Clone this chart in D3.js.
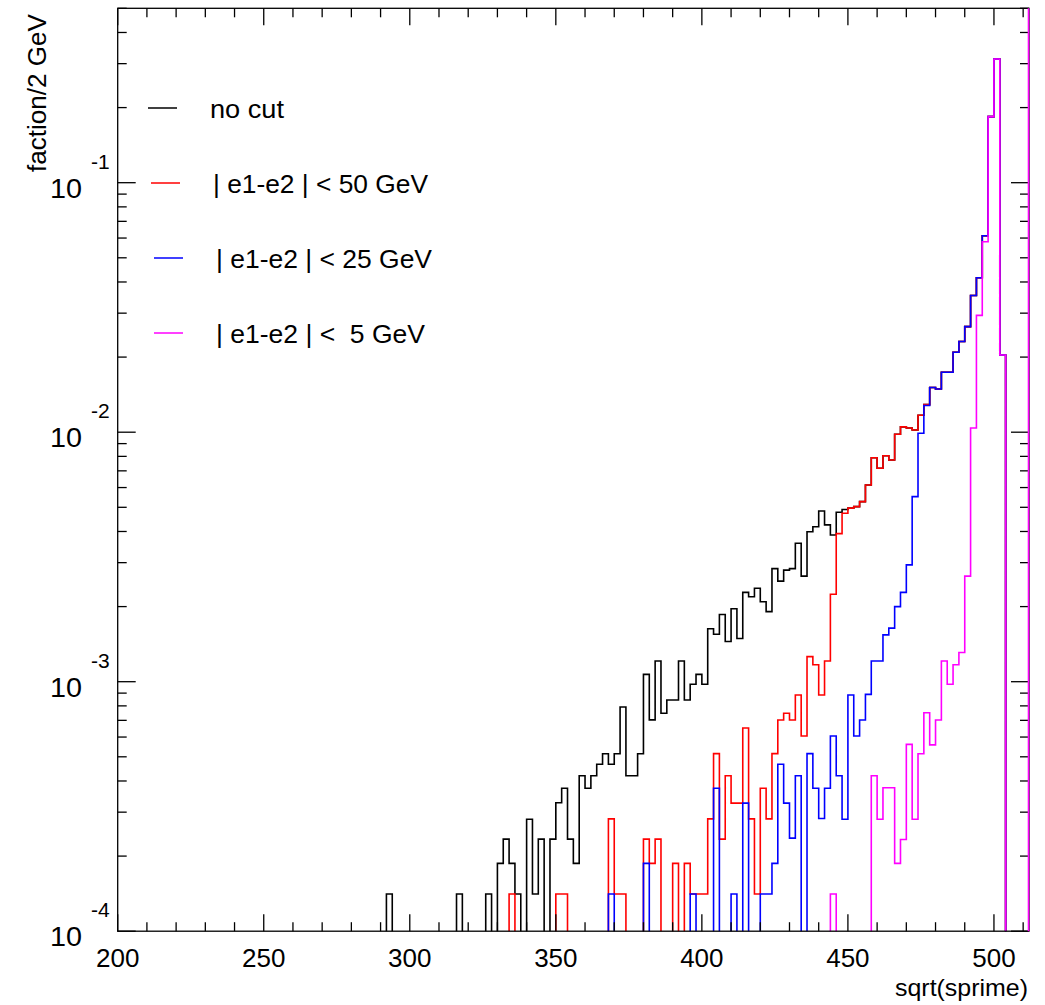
<!DOCTYPE html>
<html><head><meta charset="utf-8">
<script src="https://cdn.jsdelivr.net/npm/d3@7"></script>
<style>body{margin:0;background:#fff}svg{display:block;font-family:"Liberation Sans",Arial,Helvetica,sans-serif}</style>
</head><body><svg id="c" width="1045" height="1005"></svg>
<script>
// ---- data ----
const xTicks = [200, 250, 300, 350, 400, 450, 500];
const yDecades = [-4, -3, -2, -1];
const seriesNames = ["no cut", "| e1-e2 | < 50 GeV", "| e1-e2 | < 25 GeV", "| e1-e2 | <  5 GeV"];
const seriesColors = ["#000000", "#ff0000", "#0000ff", "#ff00ff"];
// [bin low edge (GeV), fraction per 2 GeV bin]
const noCut = [[292,1.41e-4],[316,1.41e-4],[326,1.41e-4],[330,1.87e-4],[332,2.34e-4],[334,1.87e-4],[336,1.41e-4],[340,2.81e-4],[342,1.41e-4],[344,2.34e-4],[348,2.34e-4],[350,3.27e-4],[352,3.74e-4],[354,2.34e-4],[356,1.87e-4],[358,4.20e-4],[360,3.74e-4],[362,4.20e-4],[364,4.67e-4],[366,5.14e-4],[368,4.67e-4],[370,5.14e-4],[372,7.92e-4],[374,4.20e-4],[376,4.20e-4],[378,5.14e-4],[380,1.07e-3],[382,7.03e-4],[384,1.21e-3],[386,7.47e-4],[388,8.45e-4],[390,8.45e-4],[392,1.21e-3],[394,8.45e-4],[396,9.77e-4],[398,1.07e-3],[400,9.77e-4],[402,1.63e-3],[404,1.55e-3],[406,1.86e-3],[408,1.45e-3],[410,1.96e-3],[412,1.49e-3],[414,2.28e-3],[416,2.19e-3],[418,2.37e-3],[420,2.09e-3],[422,1.91e-3],[424,2.84e-3],[426,2.53e-3],[428,2.80e-3],[430,2.84e-3],[432,3.59e-3],[434,2.65e-3],[436,3.99e-3],[438,4.18e-3],[440,4.83e-3],[442,4.25e-3],[444,3.87e-3],[446,4.78e-3],[448,4.90e-3],[450,4.96e-3],[452,5.03e-3],[454,5.27e-3],[456,6.14e-3],[458,7.90e-3],[460,7.17e-3],[462,8.05e-3],[464,7.74e-3],[466,9.81e-3],[468,1.05e-2],[470,1.04e-2],[472,1.02e-2],[474,1.17e-2],[476,1.29e-2],[478,1.51e-2],[480,1.49e-2],[482,1.74e-2],[484,1.74e-2],[486,2.09e-2],[488,2.31e-2],[490,2.65e-2],[492,3.53e-2],[494,4.16e-2],[496,6.13e-2],[498,0.184],[500,0.313],[502,0.0204]];
const cut50 = [[334,1.41e-4],[350,1.41e-4],[352,1.41e-4],[368,2.82e-4],[370,1.41e-4],[372,1.41e-4],[380,2.34e-4],[382,1.87e-4],[384,2.34e-4],[390,1.87e-4],[394,1.87e-4],[396,1.41e-4],[398,1.41e-4],[400,1.41e-4],[402,2.82e-4],[404,5.15e-4],[406,2.34e-4],[408,4.20e-4],[410,3.26e-4],[412,3.26e-4],[414,6.52e-4],[416,2.82e-4],[418,1.41e-4],[420,3.74e-4],[422,2.82e-4],[424,5.15e-4],[426,7.02e-4],[428,7.47e-4],[430,7.02e-4],[432,8.85e-4],[434,6.06e-4],[436,1.26e-3],[438,1.17e-3],[440,8.85e-4],[442,1.21e-3],[444,2.24e-3],[446,3.92e-3],[448,4.73e-3],[450,4.96e-3],[452,5.03e-3],[454,5.27e-3],[456,6.14e-3],[458,7.90e-3],[460,7.17e-3],[462,8.05e-3],[464,7.74e-3],[466,9.81e-3],[468,1.05e-2],[470,1.04e-2],[472,1.02e-2],[474,1.17e-2],[476,1.29e-2],[478,1.51e-2],[480,1.49e-2],[482,1.74e-2],[484,1.74e-2],[486,2.09e-2],[488,2.31e-2],[490,2.65e-2],[492,3.53e-2],[494,4.16e-2],[496,6.13e-2],[498,0.184],[500,0.313],[502,0.0204]];
const cut25 = [[368,1.41e-4],[380,1.87e-4],[396,1.41e-4],[404,3.74e-4],[410,1.41e-4],[414,3.26e-4],[420,1.41e-4],[422,1.41e-4],[424,1.87e-4],[426,4.67e-4],[428,3.26e-4],[430,2.36e-4],[432,4.20e-4],[436,5.15e-4],[438,3.74e-4],[440,2.83e-4],[442,3.74e-4],[444,6.06e-4],[446,4.20e-4],[448,2.81e-4],[450,8.85e-4],[452,6.06e-4],[454,7.02e-4],[456,8.90e-4],[458,1.21e-3],[460,1.21e-3],[462,1.54e-3],[464,1.64e-3],[466,2.00e-3],[468,2.28e-3],[470,2.94e-3],[472,5.52e-3],[474,9.90e-3],[476,1.28e-2],[478,1.51e-2],[480,1.49e-2],[482,1.74e-2],[484,1.74e-2],[486,2.09e-2],[488,2.31e-2],[490,2.65e-2],[492,3.53e-2],[494,4.16e-2],[496,6.13e-2],[498,0.184],[500,0.313],[502,0.0204]];
const cut5 = [[444,1.41e-4],[458,4.20e-4],[460,2.81e-4],[462,3.76e-4],[464,3.76e-4],[466,1.87e-4],[468,2.33e-4],[470,5.61e-4],[472,2.81e-4],[474,5.14e-4],[476,7.51e-4],[478,5.58e-4],[480,7.02e-4],[482,1.21e-3],[484,9.77e-4],[486,1.17e-3],[488,1.31e-3],[490,2.65e-3],[492,1.04e-2],[494,2.94e-2],[496,5.80e-2],[498,0.184],[500,0.313],[502,0.0204]];
const seriesData = [noCut, cut50, cut25, cut5];
const xMin = 200, xMax = 512, binWidth = 2;
const yMin = 1e-4, yMax = 0.5;

// ---- layout ----
const L = 117.7, R = 1029, T = 8.3, B = 931.2;
const svg = d3.select("#c");
const x = d3.scaleLinear().domain([xMin, xMax]).range([L, R]);
const y = d3.scaleLog().domain([yMin, yMax]).range([B, T]);

svg.append("defs").append("clipPath").attr("id", "clip")
  .append("rect").attr("x", L).attr("y", T).attr("width", R - L).attr("height", B - T);

const gData = svg.append("g").attr("clip-path", "url(#clip)");
const nb = (xMax - xMin) / binWidth;
seriesData.forEach((arr, i) => {
  const m = new Map(arr.map(d => [d[0], d[1]]));
  const pts = [[x(xMin), B]];
  for (let k = 0; k < nb; k++) {
    const lo = xMin + k * binWidth, hi = lo + binWidth;
    const v = m.get(lo) || 0;
    const py = v > 0 ? Math.max(T - 5, y(v)) : B + 2;
    pts.push([x(lo), py], [x(hi), py]);
  }
  pts.push([x(xMax), B + 2]);
  gData.append("path").attr("d", d3.line()(pts))
    .attr("fill", "none").attr("stroke", seriesColors[i]).attr("stroke-width", 1.6);
});

// frame + ticks
const gA = svg.append("g").attr("stroke", "#000").attr("stroke-width", 1.3);
gA.append("rect").attr("x", L).attr("y", T).attr("width", R - L).attr("height", B - T).attr("fill", "none");
const xMinor = d3.range(xMin, xMax + 0.001, 10);
xMinor.forEach(v => {
  const len = (v % 50 === 0) ? 17 : 9;
  gA.append("line").attr("x1", x(v)).attr("x2", x(v)).attr("y1", B).attr("y2", B - len);
  gA.append("line").attr("x1", x(v)).attr("x2", x(v)).attr("y1", T).attr("y2", T + len);
});
const yTickVals = [];
for (let e = -4; e <= 0; e++) for (let m = 1; m <= 9; m++) {
  const v = m * Math.pow(10, e);
  if (v >= yMin * 0.999 && v <= yMax * 1.001) yTickVals.push([v, m === 1]);
}
yTickVals.forEach(([v, major]) => {
  const len = major ? 18 : 9, py = y(v);
  gA.append("line").attr("x1", L).attr("x2", L + len).attr("y1", py).attr("y2", py);
  gA.append("line").attr("x1", R).attr("x2", R - len).attr("y1", py).attr("y2", py);
});

// right edge magenta line
svg.append("line").attr("x1", x(xMax) - 0.5).attr("x2", x(xMax) - 0.5).attr("y1", T).attr("y2", B)
  .attr("stroke", seriesColors[3]).attr("stroke-width", 1.6);

// tick labels
const gT = svg.append("g").attr("fill", "#000");
xTicks.forEach(v => {
  gT.append("text").attr("x", x(v)).attr("y", 967).attr("text-anchor", "middle")
    .attr("font-size", 26).text(v);
});
yDecades.forEach(e => {
  const py = y(Math.pow(10, e));
  gT.append("text").attr("x", 50).attr("y", py + 15)
    .attr("font-size", 27).attr("textLength", 32).attr("lengthAdjust", "spacingAndGlyphs").text("10");
  gT.append("text").attr("x", 91).attr("y", py - 14).attr("text-anchor", "start")
    .attr("font-size", 21).text(String(e));
});
// axis titles
gT.append("text").attr("x", 895).attr("y", 996)
  .attr("font-size", 24).attr("textLength", 133).attr("lengthAdjust", "spacingAndGlyphs").text("sqrt(sprime)");
gT.append("text").attr("transform", "translate(46,172) rotate(-90)")
  .attr("font-size", 25).attr("textLength", 158).attr("lengthAdjust", "spacingAndGlyphs").text("faction/2 GeV");

// legend
const legY = [108, 183, 258, 333];
const legLineX = [148, 151, 154, 154];
const legTextX = [210, 213, 216, 216];
const legTextLen = [74, 215, 216, 209];
seriesNames.forEach((n, i) => {
  svg.append("line").attr("x1", legLineX[i]).attr("x2", legLineX[i] + 29)
    .attr("y1", legY[i]).attr("y2", legY[i]).attr("stroke", seriesColors[i]).attr("stroke-width", 1.5);
  svg.append("text").attr("x", legTextX[i]).attr("y", legY[i] + 10).attr("font-size", 25)
    .attr("xml:space", "preserve").style("white-space", "pre")
    .attr("textLength", legTextLen[i]).attr("lengthAdjust", "spacingAndGlyphs").text(n);
});
</script></body></html>
